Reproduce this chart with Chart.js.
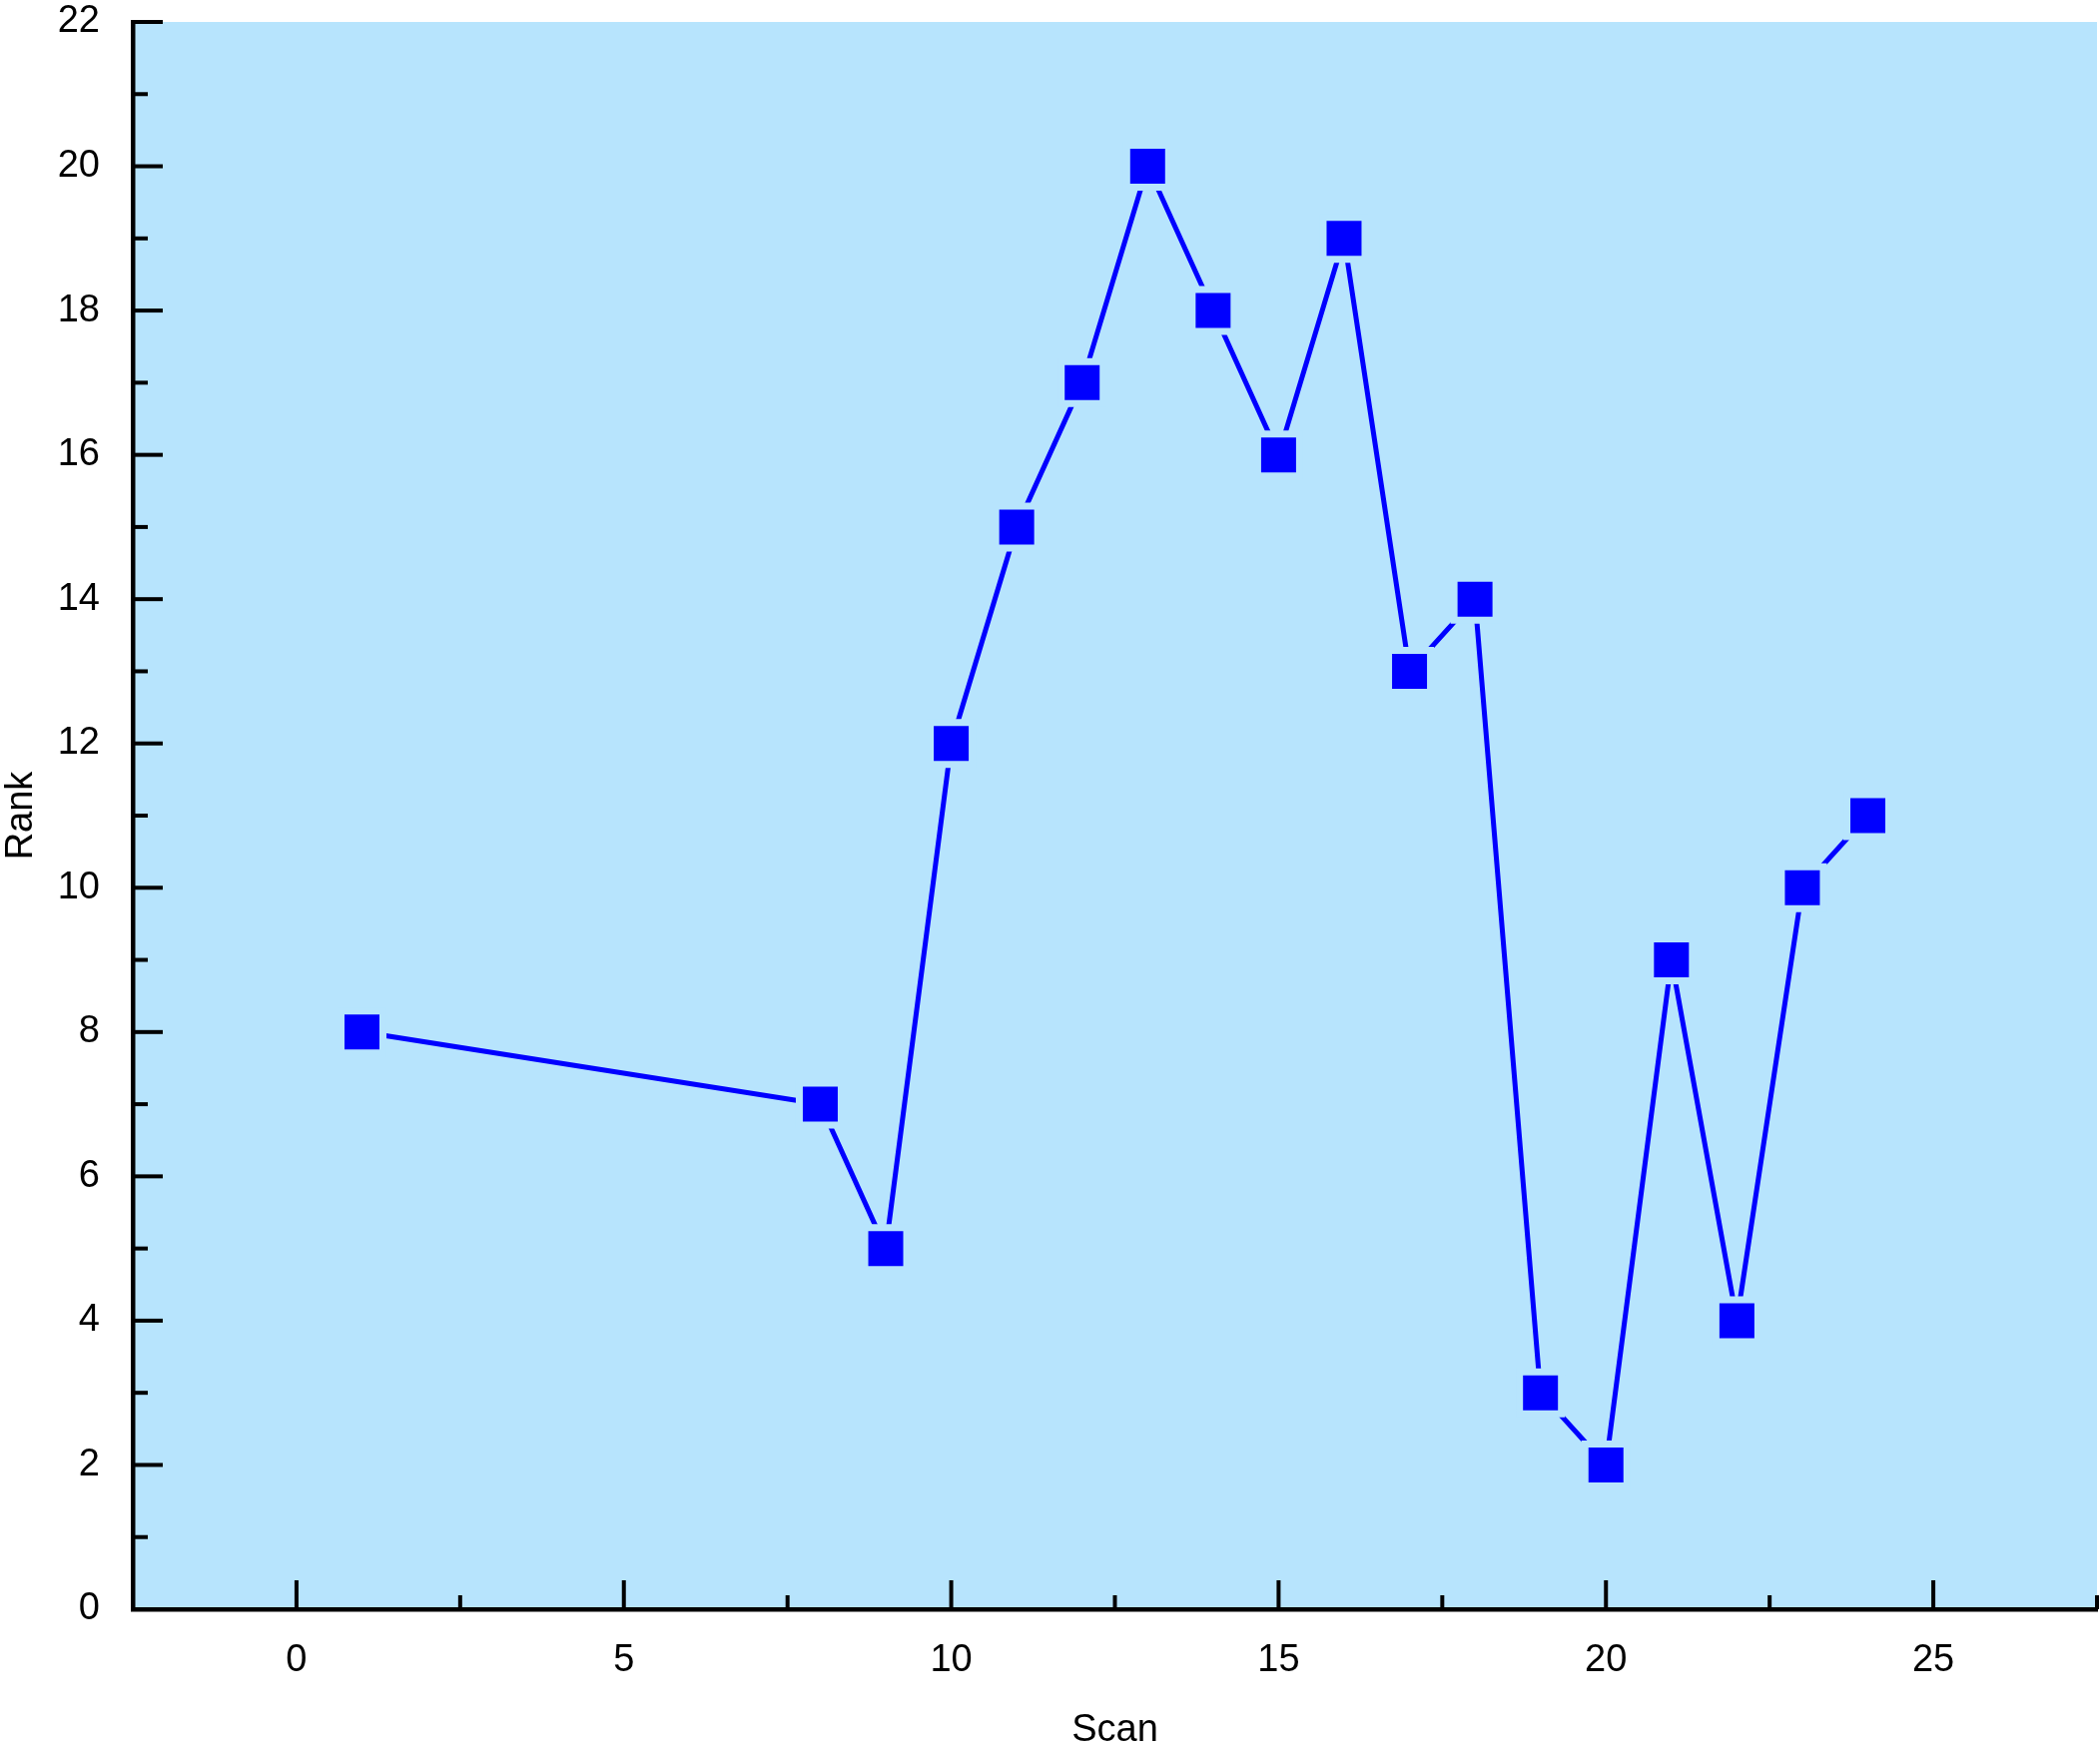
<!DOCTYPE html>
<html>
<head>
<meta charset="utf-8">
<script src="https://cdn.jsdelivr.net/npm/chart.js@4/dist/chart.umd.min.js"></script>
<style>
  html, body { margin: 0; padding: 0; background: #ffffff; }
  #wrap { width: 2103px; height: 1755px; }
</style>
</head>
<body>
<div id="wrap"><canvas id="rank-chart" width="2103" height="1755"></canvas></div>
<script>
'use strict';
// ***** DATA *****
let scanValues = [1, 8, 9, 10, 11, 12, 13, 14, 15, 16, 17, 18, 19, 20, 21, 22, 23, 24];
let rankValues = [8, 7, 5, 12, 15, 17, 20, 18, 16, 19, 13, 14, 3, 2, 9, 4, 10, 11];
let xTickLabels = [0, 5, 10, 15, 20, 25];
let yTickLabels = [0, 2, 4, 6, 8, 10, 12, 14, 16, 18, 20, 22];

// ***** STYLE *****
let plotBackground = '#b7e4fd';
let seriesColor = '#0000ff';
let axisFont = { family: '"Liberation Sans", Arial, sans-serif', size: 38 };

// Fill the plot area with light blue
let backgroundPlugin = {
  id: 'plotBackground',
  beforeDraw(chart) {
    let { ctx, chartArea } = chart;
    ctx.save();
    ctx.fillStyle = plotBackground;
    ctx.fillRect(chartArea.left, chartArea.top, chartArea.right - chartArea.left, chartArea.bottom - chartArea.top);
    ctx.restore();
  }
};

// Ticks pointing into the plot, major and minor
let inwardTicksPlugin = {
  id: 'inwardTicks',
  afterDraw(chart) {
    let { ctx, chartArea, scales } = chart;
    ctx.save();
    ctx.strokeStyle = '#000000';
    ctx.lineWidth = 4;
    for (let v = -2.5; v <= 27.5; v += 2.5) {
      let px = scales.x.getPixelForValue(v);
      let len = (v % 5 === 0) ? 29 : 14;
      ctx.beginPath();
      ctx.moveTo(px, chartArea.bottom);
      ctx.lineTo(px, chartArea.bottom - len);
      ctx.stroke();
    }
    for (let v = 0; v <= 22; v++) {
      let py = scales.y.getPixelForValue(v);
      let len = (v % 2 === 0) ? 30 : 15;
      ctx.beginPath();
      ctx.moveTo(chartArea.left, py);
      ctx.lineTo(chartArea.left + len, py);
      ctx.stroke();
    }
    ctx.restore();
  }
};

let points = scanValues.map((x, i) => ({ x: x, y: rankValues[i] }));

let chartConfig = {
  type: 'scatter',
  data: {
    datasets: [{
      data: points,
      showLine: true,
      borderColor: seriesColor,
      borderWidth: 5,
      borderCapStyle: 'round',
      pointStyle: 'rect',
      pointRadius: 29.7,
      pointHoverRadius: 29.7,
      pointBackgroundColor: seriesColor,
      pointBorderColor: plotBackground,
      pointBorderWidth: 7
    }]
  },
  options: {
    responsive: false,
    animation: false,
    layout: { autoPadding: false, padding: { top: 22, right: 3, left: 0, bottom: 0 } },
    plugins: { legend: { display: false }, tooltip: { enabled: false } },
    scales: {
      x: {
        type: 'linear',
        min: -2.5,
        max: 27.5,
        afterBuildTicks: (scale) => { scale.ticks = xTickLabels.map((v) => ({ value: v })); },
        afterFit: (scale) => { scale.height = 143; scale.paddingLeft = 0; scale.paddingRight = 0; },
        grid: { drawOnChartArea: false, drawTicks: false },
        border: { display: true, color: '#000000', width: 4.5 },
        ticks: { font: axisFont, color: '#000000', padding: 29, maxRotation: 0 },
        title: { display: true, text: 'Scan', color: '#000000', font: { family: axisFont.family, size: 38, lineHeight: 1 }, padding: { top: 0, bottom: 2 } }
      },
      y: {
        type: 'linear',
        min: 0,
        max: 22,
        afterBuildTicks: (scale) => { scale.ticks = yTickLabels.map((v) => ({ value: v })); },
        afterFit: (scale) => { scale.width = 133; scale.paddingTop = 0; scale.paddingBottom = 0; },
        grid: { drawOnChartArea: false, drawTicks: false },
        border: { display: true, color: '#000000', width: 4.5 },
        ticks: { font: axisFont, color: '#000000', padding: 33 },
        title: { display: true, text: 'Rank', color: '#000000', font: { family: axisFont.family, size: 38, lineHeight: 1 }, padding: { top: 3, bottom: 0 } }
      }
    }
  },
  plugins: [backgroundPlugin, inwardTicksPlugin]
};

new Chart(document.getElementById('rank-chart'), chartConfig);
</script>
</body>
</html>
